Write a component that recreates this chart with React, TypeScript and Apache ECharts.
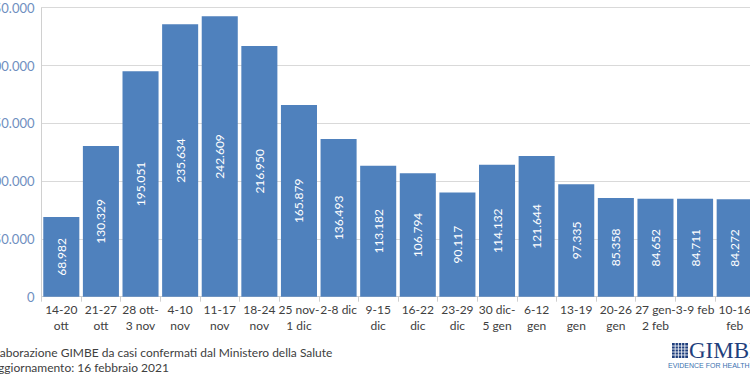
import React, { useEffect, useRef } from "react";
import * as echarts from "echarts";

const categories: string[] = [
  "14-20\nott",
  "21-27\nott",
  "28 ott-\n3 nov",
  "4-10\nnov",
  "11-17\nnov",
  "18-24\nnov",
  "25 nov-\n1 dic",
  "2-8 dic",
  "9-15\ndic",
  "16-22\ndic",
  "23-29\ndic",
  "30 dic-\n5 gen",
  "6-12\ngen",
  "13-19\ngen",
  "20-26\ngen",
  "27 gen-\n2 feb",
  "3-9 feb",
  "10-16\nfeb",
];

const casi: number[] = [
  68982, 130329, 195051, 235634, 242609, 216950, 165879, 136493, 113182,
  106794, 90117, 114132, 121644, 97335, 85358, 84652, 84711, 84272,
];

const yTicks = { min: 0, max: 250000, interval: 50000 };

const footerLines: string[] = [
  "Elaborazione GIMBE da casi confermati dal Ministero della Salute",
  "Aggiornamento: 16 febbraio 2021",
];

const fmt = (v: number) =>
  String(Math.round(v)).replace(/\B(?=(\d{3})+(?!\d))/g, ".");

function logoGraphics() {
  const els: any[] = [];
  const ix = 672;
  const iy = 343;
  const w = 16;
  const h = 15;
  els.push({
    type: "rect",
    shape: { x: ix, y: iy, width: w, height: h },
    style: { fill: "#1f3f7d" },
  });
  for (let i = 1; i < 5; i++) {
    els.push({
      type: "line",
      shape: { x1: ix + (i * w) / 5, y1: iy, x2: ix + (i * w) / 5, y2: iy + h },
      style: { stroke: "#ffffff", lineWidth: 0.8 },
    });
    els.push({
      type: "line",
      shape: { x1: ix, y1: iy + (i * h) / 5, x2: ix + w, y2: iy + (i * h) / 5 },
      style: { stroke: "#ffffff", lineWidth: 0.8 },
    });
  }
  els.push({
    type: "text",
    x: 689,
    y: 339,
    style: {
      text: "GIMBE",
      fill: "#1f3f7d",
      font: "23px 'Liberation Serif', serif",
      textVerticalAlign: "top",
    },
  });
  els.push({
    type: "text",
    x: 668,
    y: 362,
    style: {
      text: "EVIDENCE FOR HEALTH",
      fill: "#3a72b0",
      font: "7px 'Liberation Sans', sans-serif",
      textVerticalAlign: "top",
    },
  });
  return els;
}

export default function App() {
  const ref = useRef<HTMLDivElement>(null);
  useEffect(() => {
    if (!ref.current) return;
    const chart = echarts.init(ref.current, undefined, { renderer: "svg" });
    chart.setOption({
      animation: false,
      backgroundColor: "#ffffff",
      textStyle: { fontFamily: "Lato, sans-serif" },
      grid: {
        left: 41.5,
        top: 7.7,
        width: 713,
        height: 289,
        containLabel: false,
        outerBoundsMode: "none",
      },
      xAxis: {
        type: "category",
        data: categories,
        axisLine: { show: true, lineStyle: { color: "#d0d0d0", width: 1 } },
        axisTick: { show: true, length: 5, lineStyle: { color: "#d0d0d0" } },
        axisLabel: {
          interval: 0,
          color: "#404040",
          fontSize: 12,
          lineHeight: 16,
          margin: 5,
          fontFamily: "Lato, sans-serif",
        },
      },
      yAxis: {
        type: "value",
        min: yTicks.min,
        max: yTicks.max,
        interval: yTicks.interval,
        axisLine: { show: true, lineStyle: { color: "#d0d0d0", width: 1 } },
        axisTick: { show: false },
        splitLine: { show: true, lineStyle: { color: "#d9d9d9", width: 1 } },
        axisLabel: {
          color: "#6f8fbf",
          fontSize: 13,
          margin: 7,
          fontFamily: "Lato, sans-serif",
          formatter: (v: number) => fmt(v),
        },
      },
      series: [
        {
          type: "bar",
          data: casi,
          barCategoryGap: "9%",
          itemStyle: { color: "#4f81bd" },
          label: {
            show: true,
            position: "inside",
            rotate: 90,
            color: "#ffffff",
            fontSize: 12,
            fontFamily: "Lato, sans-serif",
            formatter: (p: any) => fmt(p.value),
          },
        },
      ],
      graphic: [
        ...footerLines.map((t, i) => ({
          type: "text",
          x: -10,
          y: 346 + i * 15.5,
          style: {
            text: t,
            fill: "#404040",
            font: "12px Lato, sans-serif",
            textVerticalAlign: "top",
          },
        })),
        ...logoGraphics(),
      ],
    });
    return () => chart.dispose();
  }, []);
  return (
    <div
      ref={ref}
      style={{ position: "absolute", left: 0, top: 0, width: 750, height: 375 }}
    />
  );
}
